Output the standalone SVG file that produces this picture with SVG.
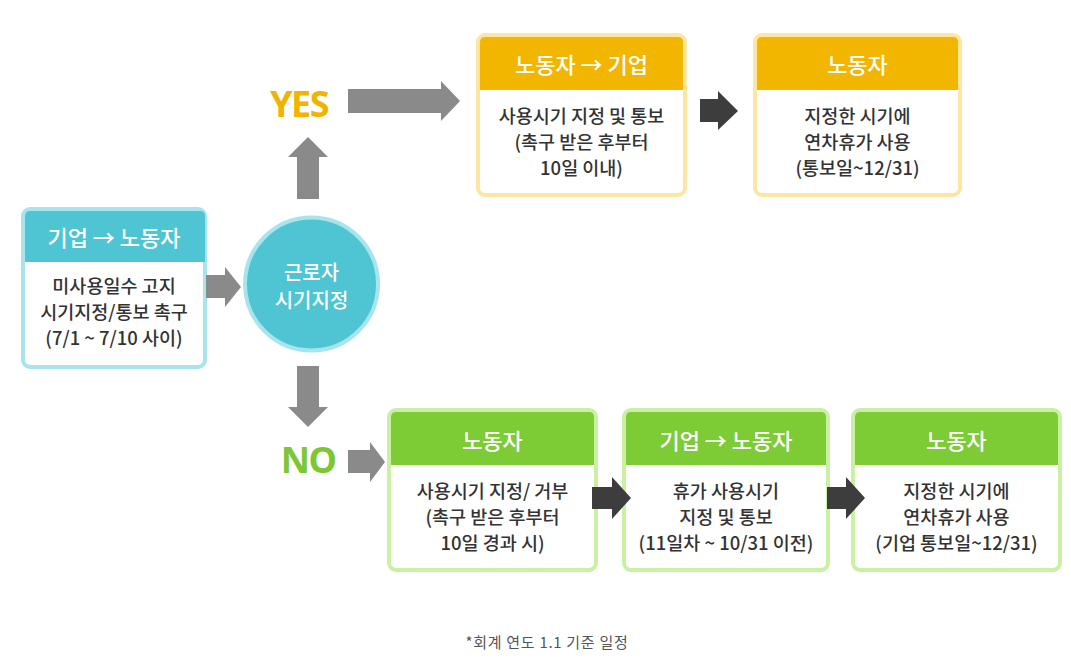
<svg xmlns="http://www.w3.org/2000/svg" width="1071" height="659" viewBox="0 0 1071 659">
<style>
.t{font-family:"Noto Sans CJK KR","Noto Sans",sans-serif;text-anchor:middle;dominant-baseline:central}
.hd{font-size:22px;fill:#ffffff;font-weight:500}
.bd{font-size:18.5px;fill:#333333;font-weight:500}
.teal .frame{stroke:#a8e4ee}
.teal .head{fill:#4fc4d2}
.yel .frame{stroke:#fde6a3}
.yel .head{fill:#f2b600}
.grn .frame{stroke:#caf0a4}
.grn .head{fill:#7dcb35}
.frame{fill:#ffffff;stroke-width:4}
.ga{fill:#8a8a8a}
.da{fill:#3d3d3d}
.big{font-family:"Noto Sans","Liberation Sans",sans-serif;font-weight:700;font-size:36px;text-anchor:middle;letter-spacing:-1.5px}
</style>
<rect width="1071" height="659" fill="#ffffff"/>

<g id="node-company-notice" class="teal">
<rect class="frame" x="23" y="209" width="182" height="158" rx="7"/>
<path class="head" d="M25,262 V216 Q25,211 30,211 H200 Q205,211 205,216 V262 Z"/>
<text class="t hd" x="114" y="236">기업 → 노동자</text>
<text class="t bd" x="114" y="285">미사용일수 고지</text>
<text class="t bd" x="114" y="311">시기지정/통보 촉구</text>
<text class="t bd" x="114" y="337">(7/1 ~ 7/10 사이)</text>
</g>

<g id="node-decision">
<circle cx="311.5" cy="284" r="66.5" fill="#4fc4d2" stroke="#a8e4ee" stroke-width="4"/>
<text class="t" x="311.5" y="271" font-size="20" font-weight="500" fill="#ffffff">근로자</text>
<text class="t" x="311.5" y="299" font-size="20" font-weight="500" fill="#ffffff">시기지정</text>
</g>

<g id="label-yes"><text class="big" x="299" y="117" fill="#f0b400">YES</text></g>
<g id="label-no"><text class="big" x="308" y="473" fill="#7dc832">NO</text></g>

<g id="node-yes-1" class="yel">
<rect class="frame" x="478" y="35" width="207" height="160" rx="7"/>
<path class="head" d="M480,90 V42 Q480,37 485,37 H678 Q683,37 683,42 V90 Z"/>
<text class="t hd" x="581.5" y="63">노동자 → 기업</text>
<text class="t bd" x="581.5" y="115">사용시기 지정 및 통보</text>
<text class="t bd" x="581.5" y="141">(촉구 받은 후부터</text>
<text class="t bd" x="581.5" y="167">10일 이내)</text>
</g>

<g id="node-yes-2" class="yel">
<rect class="frame" x="755" y="35" width="205" height="160" rx="7"/>
<path class="head" d="M757,90 V42 Q757,37 762,37 H953 Q958,37 958,42 V90 Z"/>
<text class="t hd" x="857.5" y="63">노동자</text>
<text class="t bd" x="857.5" y="115">지정한 시기에</text>
<text class="t bd" x="857.5" y="141">연차휴가 사용</text>
<text class="t bd" x="857.5" y="167">(통보일~12/31)</text>
</g>

<g id="node-no-1" class="grn">
<rect class="frame" x="389" y="410" width="207" height="160" rx="7"/>
<path class="head" d="M391,465 V417 Q391,412 396,412 H589 Q594,412 594,417 V465 Z"/>
<text class="t hd" x="492.5" y="439">노동자</text>
<text class="t bd" x="492.5" y="490">사용시기 지정/ 거부</text>
<text class="t bd" x="492.5" y="516">(촉구 받은 후부터</text>
<text class="t bd" x="492.5" y="542">10일 경과 시)</text>
</g>

<g id="node-no-2" class="grn">
<rect class="frame" x="624" y="410" width="204" height="160" rx="7"/>
<path class="head" d="M626,465 V417 Q626,412 631,412 H821 Q826,412 826,417 V465 Z"/>
<text class="t hd" x="726" y="439">기업 → 노동자</text>
<text class="t bd" x="726" y="490">휴가 사용시기</text>
<text class="t bd" x="726" y="516">지정 및 통보</text>
<text class="t bd" x="726" y="542">(11일차 ~ 10/31 이전)</text>
</g>

<g id="node-no-3" class="grn">
<rect class="frame" x="853" y="410" width="207" height="160" rx="7"/>
<path class="head" d="M855,465 V417 Q855,412 860,412 H1053 Q1058,412 1058,417 V465 Z"/>
<text class="t hd" x="956.5" y="439">노동자</text>
<text class="t bd" x="956.5" y="490">지정한 시기에</text>
<text class="t bd" x="956.5" y="516">연차휴가 사용</text>
<text class="t bd" x="956.5" y="542">(기업 통보일~12/31)</text>
</g>

<g id="connectors">
<polygon class="ga" points="206,275 225,275 225,267 241,287 225,307 225,298 206,298"/>
<polygon class="ga" points="297,199 297,157 288,157 308,137 328,157 319,157 319,199"/>
<polygon class="ga" points="348,89 441,89 441,81 460,101 441,121 441,113 348,113"/>
<polygon class="ga" points="297,366 297,407 288,407 308,427 328,407 319,407 319,366"/>
<polygon class="ga" points="348,450 370,450 370,442 385,462 370,482 370,473 348,473"/>
<polygon class="da" points="700,99 718,99 718,91 738,111 718,130 718,122 700,122"/>
<polygon class="da" points="592,487 612,487 612,477 631,498 612,519 612,509 592,509"/>
<polygon class="da" points="827,487 846,487 846,477 865,498 846,519 846,509 827,509"/>
</g>

<text x="547" y="648" font-family="Noto Sans CJK KR, sans-serif" font-size="15" fill="#555555" text-anchor="middle" letter-spacing="0.7">*회계 연도 1.1 기준 일정</text>
</svg>
